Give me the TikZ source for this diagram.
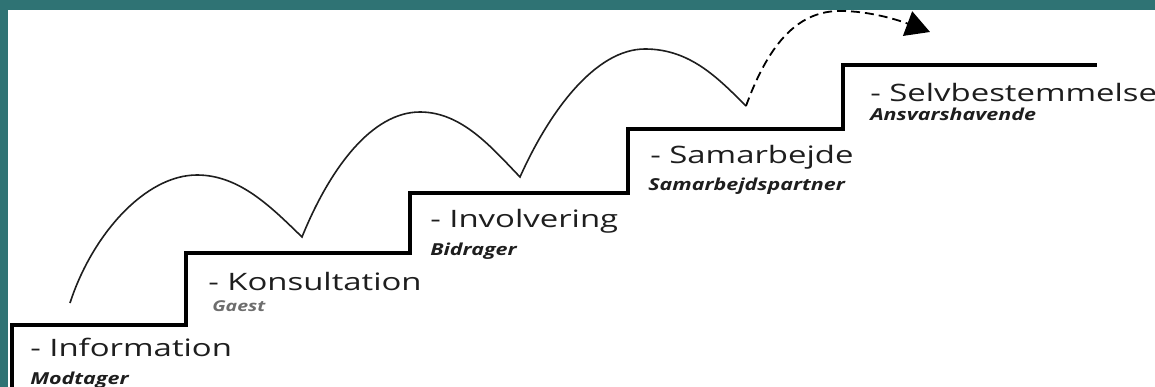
\documentclass[tikz,border=0pt]{standalone}
\usepackage{fontspec}
\setmainfont{Open Sans}
\newfontfamily\labfont{Open Sans}
\newcommand\rolefont{\labfont\bfseries\itshape}
\usetikzlibrary{arrows.meta}
\definecolor{teal1}{HTML}{2F7374}
\definecolor{ink}{HTML}{1E1E1E}
\tikzset{
  stair/.style={line width=4pt, line join=miter, draw=black},
  hop/.style={line width=1.6pt, draw=ink},
  hopdash/.style={line width=1.8pt, draw=black, dash pattern=on 9pt off 5pt},
  steplabel/.style={anchor=base west, inner sep=0pt, xscale=1.37, font=\labfont\fontsize{24}{24}\selectfont, text=ink},
  rolelabel/.style={anchor=base west, inner sep=0pt, xscale=1.3, font=\rolefont\fontsize{16.5}{16.5}\selectfont, text=ink}
}
\begin{document}
\begin{tikzpicture}[x=1pt,y=-1pt]
\useasboundingbox (0,0) rectangle (1155,387);
\fill[teal1] (0,0) rectangle (1155,387);
\fill[white] (8,10) rectangle (1155,387);
% staircase
\coordinate (s0) at (12,387);
\coordinate (s1) at (12,325);
\coordinate (s2) at (186,325);
\coordinate (s3) at (186,253);
\coordinate (s4) at (410,253);
\coordinate (s5) at (410,193);
\coordinate (s6) at (628,193);
\coordinate (s7) at (628,129);
\coordinate (s8) at (843,129);
\coordinate (s9) at (843,65);
\coordinate (s10) at (1097,65);
\draw[stair] (s0) -- (s1) -- (s2) -- (s3) -- (s4) -- (s5) -- (s6) -- (s7) -- (s8) -- (s9) -- (s10);
% hops
\coordinate (a0) at (70,303);
\coordinate (p1) at (197,175);
\coordinate (v1) at (302,237);
\coordinate (p2) at (420,112);
\coordinate (v2) at (520,177);
\coordinate (p3) at (645,49);
\coordinate (v3) at (746,106);
\coordinate (p4) at (840,11);
\coordinate (tip) at (930,32);
\draw[hop] (a0) .. controls (92,235) and (145,175) .. (p1)
  .. controls (240,175) and (272,208) .. (v1)
  .. controls (330,168) and (372,112) .. (p2)
  .. controls (462,112) and (492,148) .. (v2)
  .. controls (550,110) and (596,49) .. (p3)
  .. controls (690,49) and (718,78) .. (v3);
\draw[hopdash, -{Triangle[length=24pt,width=26pt]}] (v3) .. controls (770,40) and (800,11) .. (p4)
  .. controls (870,11) and (898,20) .. (tip);
% labels
\node[steplabel] (l1) at (30,356) {- Information};
\node[rolelabel] (r1) at (30,384) {Modtager};
\node[steplabel] (l2) at (208,290) {- Konsultation};
\node[rolelabel, text=ink!65, font=\rolefont\fontsize{15}{15}\selectfont] (r2) at (212,311) {Gaest};
\node[steplabel] (l3) at (430,228) {- Involvering};
\node[rolelabel] (r3) at (430,255) {Bidrager};
\node[steplabel] (l4) at (650,164) {- Samarbejde};
\node[rolelabel] (r4) at (648,191) {Samarbejdspartner};
\node[steplabel] (l5) at (870,102) {- Selvbestemmelse};
\node[rolelabel] (r5) at (870,121) {Ansvarshavende};
\end{tikzpicture}
\end{document}
